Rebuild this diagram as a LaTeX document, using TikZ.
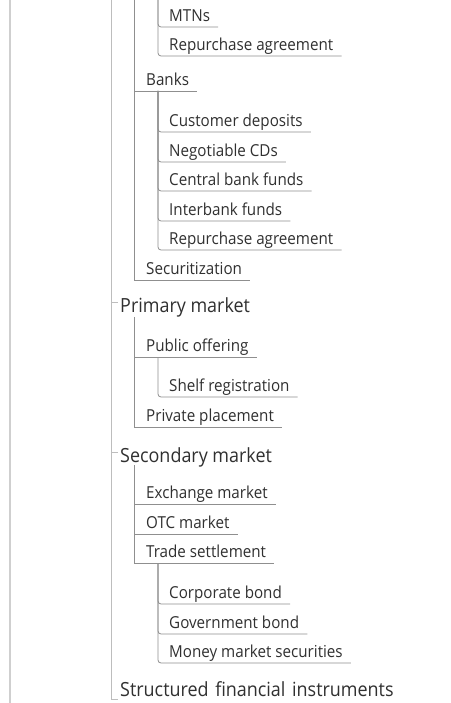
\documentclass[tikz,border=0pt]{standalone}
\usepackage{fontspec}
\setmainfont[FakeStretch=0.92]{Open Sans}
\definecolor{textc}{HTML}{303030}
\definecolor{l1c}{HTML}{CFCFCF}
\definecolor{l2c}{HTML}{BDBDBD}
\definecolor{l3c}{HTML}{8F8F8F}
\begin{document}
\begin{tikzpicture}[x=1pt,y=-1pt,
  txt/.style={text=textc, inner xsep=0pt, inner ysep=5.5pt, text depth=0pt, anchor=south west, font=\fontsize{16.5}{18}\selectfont},
  lv3/.style={txt, execute at begin node=\kern12pt, execute at end node=\kern8pt},
  lv4/.style={txt, execute at begin node=\kern11pt, execute at end node=\kern8pt},
  lv2/.style={text=textc, inner sep=0pt, anchor=base west, font=\fontsize{19.5}{22}\selectfont, execute at begin node=\kern9pt},
  c1/.style={draw=l1c, line width=1.6pt},
  c2/.style={draw=l2c, line width=0.9pt},
  c3/.style={draw=l3c, line width=0.8pt},
  c4/.style={c3, rounded corners=3pt}]
\useasboundingbox (0,0) rectangle (450,703);
\fill[white] (0,0) rectangle (450,703);
% nodes
\node[lv4] (mtn) at (158,27) {MTNs};
\node[lv4] (rp1) at (158,56) {Repurchase agreement};
\node[lv3] (bank) at (134,91) {Banks};
\node[lv4] (cd) at (158,132) {Customer deposits};
\node[lv4] (ncd) at (158,162) {Negotiable CDs};
\node[lv4] (cbf) at (158,191) {Central bank funds};
\node[lv4] (ibf) at (158,221) {Interbank funds};
\node[lv4] (rp2) at (158,250) {Repurchase agreement};
\node[lv3] (sec) at (134,280) {Securitization};
\node[lv2] (pm) at (111,312) {Primary market};
\node[lv3] (po) at (134,357) {Public offering};
\node[lv4] (shelf) at (158,397) {Shelf registration};
\node[lv3] (pp) at (134,427) {Private placement};
\node[lv2] (sm) at (111,462) {Secondary market};
\node[lv3] (ex) at (134,504) {Exchange market};
\node[lv3] (otc) at (134,534) {OTC market};
\node[lv3] (ts) at (134,563) {Trade settlement};
\node[lv4] (cb) at (158,604) {Corporate bond};
\node[lv4] (gb) at (158,634) {Government bond};
\node[lv4] (mms) at (158,663) {Money market securities};
\node[lv2] (sfi) at (111,696) {Structured\hspace{2pt} financial\hspace{2pt} instruments};
% free ends
\coordinate (t1) at (10,0); \coordinate (b1) at (10,703);
\coordinate (t2) at (111,0); \coordinate (t3) at (134,0); \coordinate (t4) at (158,0);
% connectors
\draw[c1] (t1) -- (b1);
\draw[c2] (t2) |- ([xshift=7pt,yshift=-3pt]sfi.base west);
\foreach \n in {pm,sm} \draw[c2] ([yshift=10pt]\n.base west) -- ++(7pt,0);
\foreach \c in {mtn,rp1} \draw[c4] (t4) |- (\c.south east);
\foreach \c in {bank,sec} \draw[c3] (t3) |- (\c.south east);
\foreach \c in {cd,ncd,cbf,ibf,rp2} \draw[c4] ([xshift=24pt]bank.south west) |- (\c.south east);
\foreach \c in {po,pp} \draw[c3] ([xshift=23pt,yshift=-5pt]pm.base west) |- (\c.south east);
\draw[c4] ([xshift=24pt]po.south west) |- (shelf.south east);
\foreach \c in {ex,otc,ts} \draw[c3] ([xshift=23pt,yshift=-3pt]sm.base west) |- (\c.south east);
\foreach \c in {cb,gb,mms} \draw[c4] ([xshift=24pt]ts.south west) |- (\c.south east);
\end{tikzpicture}
\end{document}
